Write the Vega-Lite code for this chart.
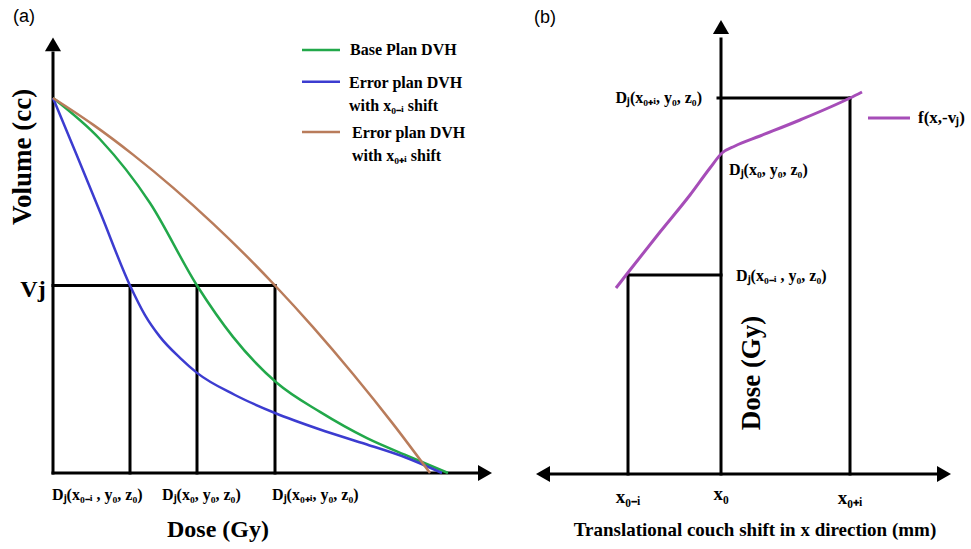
{
  "$schema": "https://vega.github.io/schema/vega-lite/v6.json",
  "padding": 0,
  "spacing": 0,
  "background": "white",
  "config": {
    "view": {"stroke": null},
    "text": {"font": "Liberation Serif", "fontWeight": "bold", "color": "black", "baseline": "middle"}
  },
  "datasets": {
    "segA": [
      {"seg": "yaxis", "x": 0, "y": 0}, {"seg": "yaxis", "x": 0, "y": 112},
      {"seg": "xaxis", "x": 0, "y": 0}, {"seg": "xaxis", "x": 106.5, "y": 0},
      {"seg": "vj", "x": 0, "y": 50}, {"seg": "vj", "x": 55.5, "y": 50},
      {"seg": "v1", "x": 19.25, "y": 0}, {"seg": "v1", "x": 19.25, "y": 50},
      {"seg": "v2", "x": 36, "y": 0}, {"seg": "v2", "x": 36, "y": 50},
      {"seg": "v3", "x": 55.5, "y": 0}, {"seg": "v3", "x": 55.5, "y": 50}
    ],
    "arrowsA": [
      {"shape": "triangle-up", "x": 0, "y": 114.3},
      {"shape": "triangle-right", "x": 108, "y": 0}
    ],
    "curvesA": [
      {"series": "Base Plan DVH", "part": "curve", "x": 0, "y": 100},
      {"series": "Base Plan DVH", "part": "curve", "x": 11.75, "y": 89},
      {"series": "Base Plan DVH", "part": "curve", "x": 24.25, "y": 72},
      {"series": "Base Plan DVH", "part": "curve", "x": 36, "y": 50},
      {"series": "Base Plan DVH", "part": "curve", "x": 45, "y": 36.3},
      {"series": "Base Plan DVH", "part": "curve", "x": 56, "y": 24},
      {"series": "Base Plan DVH", "part": "curve", "x": 66.75, "y": 16.3},
      {"series": "Base Plan DVH", "part": "curve", "x": 78.5, "y": 9.3},
      {"series": "Base Plan DVH", "part": "curve", "x": 89.25, "y": 4.3},
      {"series": "Base Plan DVH", "part": "curve", "x": 98.75, "y": 0},
      {"series": "Error x0-i", "part": "curve", "x": 0, "y": 100},
      {"series": "Error x0-i", "part": "curve", "x": 6, "y": 84.6},
      {"series": "Error x0-i", "part": "curve", "x": 12, "y": 69},
      {"series": "Error x0-i", "part": "curve", "x": 19.25, "y": 50},
      {"series": "Error x0-i", "part": "curve", "x": 23, "y": 42.1},
      {"series": "Error x0-i", "part": "curve", "x": 26.75, "y": 36.3},
      {"series": "Error x0-i", "part": "curve", "x": 31.75, "y": 30.7},
      {"series": "Error x0-i", "part": "curve", "x": 36, "y": 26.7},
      {"series": "Error x0-i", "part": "curve", "x": 45.5, "y": 20.8},
      {"series": "Error x0-i", "part": "curve", "x": 55.5, "y": 16},
      {"series": "Error x0-i", "part": "curve", "x": 66.75, "y": 11.6},
      {"series": "Error x0-i", "part": "curve", "x": 78.5, "y": 7.6},
      {"series": "Error x0-i", "part": "curve", "x": 88, "y": 4.2},
      {"series": "Error x0-i", "part": "curve", "x": 97.25, "y": 0},
      {"series": "Error x0+i", "part": "curve", "x": 0, "y": 100},
      {"series": "Error x0+i", "part": "curve", "x": 10, "y": 92.9},
      {"series": "Error x0+i", "part": "curve", "x": 20, "y": 84.9},
      {"series": "Error x0+i", "part": "curve", "x": 30, "y": 76.1},
      {"series": "Error x0+i", "part": "curve", "x": 40, "y": 66.5},
      {"series": "Error x0+i", "part": "curve", "x": 50, "y": 56.1},
      {"series": "Error x0+i", "part": "curve", "x": 55.5, "y": 50},
      {"series": "Error x0+i", "part": "curve", "x": 65, "y": 38.9},
      {"series": "Error x0+i", "part": "curve", "x": 75, "y": 26.4},
      {"series": "Error x0+i", "part": "curve", "x": 85, "y": 13.1},
      {"series": "Error x0+i", "part": "curve", "x": 94.25, "y": 0},
      {"series": "Base Plan DVH", "part": "key", "x": 62.25, "y": 112.8},
      {"series": "Base Plan DVH", "part": "key", "x": 71.75, "y": 112.8},
      {"series": "Error x0-i", "part": "key", "x": 62.25, "y": 104.3},
      {"series": "Error x0-i", "part": "key", "x": 71.75, "y": 104.3},
      {"series": "Error x0+i", "part": "key", "x": 62.25, "y": 90.9},
      {"series": "Error x0+i", "part": "key", "x": 71.75, "y": 90.9}
    ],
    "legendTextA": [
      {"t": "Base Plan DVH", "x": 74.25, "y": 112.8},
      {"t": "Error plan DVH", "x": 74, "y": 104},
      {"t": "with x₀₋ᵢ shift", "x": 74, "y": 97.9},
      {"t": "Error plan DVH", "x": 74.75, "y": 90.7},
      {"t": "with x₀₊ᵢ shift", "x": 74.75, "y": 84.5}
    ],
    "tickTextA": [
      {"t": "Dⱼ(x₀₋ᵢ , y₀, z₀)", "x": -0.25, "y": -5.9},
      {"t": "Dⱼ(x₀, y₀, z₀)", "x": 27.25, "y": -5.9},
      {"t": "Dⱼ(x₀₊ᵢ, y₀, z₀)", "x": 54.75, "y": -5.9}
    ],
    "bigTextA": [
      {"t": "Dose (Gy)", "x": 41.25, "y": -15.2},
      {"t": "Vj", "x": -5, "y": 48.8}
    ],
    "segB": [
      {"seg": "xaxis", "x": -18, "y": 0}, {"seg": "xaxis", "x": 22, "y": 0},
      {"seg": "yaxis", "x": 0, "y": 0}, {"seg": "yaxis", "x": 0, "y": 87},
      {"seg": "top", "x": -0.3, "y": 75.2}, {"seg": "top", "x": 12.9, "y": 75.2},
      {"seg": "right", "x": 12.9, "y": 0}, {"seg": "right", "x": 12.9, "y": 75.2},
      {"seg": "low", "x": -9.3, "y": 39.8}, {"seg": "low", "x": 0, "y": 39.8},
      {"seg": "left", "x": -9.3, "y": 0}, {"seg": "left", "x": -9.3, "y": 39.8}
    ],
    "arrowsB": [
      {"shape": "triangle-left", "x": -17.8, "y": 0},
      {"shape": "triangle-right", "x": 22.3, "y": 0},
      {"shape": "triangle-up", "x": 0, "y": 89.4}
    ],
    "curveB": [
      {"part": "curve", "x": -10.5, "y": 37.2},
      {"part": "curve", "x": -9.1, "y": 40.8},
      {"part": "curve", "x": -6.1, "y": 48.4},
      {"part": "curve", "x": -3.1, "y": 55.8},
      {"part": "curve", "x": -1.1, "y": 61.2},
      {"part": "curve", "x": 0.1, "y": 64.2},
      {"part": "curve", "x": 1.4, "y": 65.6},
      {"part": "curve", "x": 3.9, "y": 67.6},
      {"part": "curve", "x": 7.9, "y": 70.8},
      {"part": "curve", "x": 12.9, "y": 75.2},
      {"part": "curve", "x": 14.1, "y": 76.4},
      {"part": "key", "x": 14.7, "y": 71.2},
      {"part": "key", "x": 18.9, "y": 71.2}
    ],
    "leftTextB": [
      {"t": "Dⱼ(x₀, y₀, z₀)", "x": 0.8, "y": 60.8},
      {"t": "Dⱼ(x₀₋ᵢ , y₀, z₀)", "x": 1.5, "y": 39.6}
    ],
    "rightTextB": [
      {"t": "Dⱼ(x₀₊ᵢ, y₀, z₀)", "x": -1.9, "y": 75.2}
    ],
    "tickTextB": [
      {"t": "x₀₋ᵢ", "x": -9.3, "y": -4.6},
      {"t": "x₀", "x": 0, "y": -4},
      {"t": "x₀₊ᵢ", "x": 12.9, "y": -4.8}
    ]
  },
  "hconcat": [
    {
      "width": 495,
      "height": 549,
      "encoding": {
        "x": {"field": "x", "type": "quantitative", "scale": {"domain": [-13.25, 110.5], "nice": false, "zero": false}, "axis": null},
        "y": {"field": "y", "type": "quantitative", "scale": {"domain": [-20.27, 126.13], "nice": false, "zero": false}, "axis": null}
      },
      "layer": [
        {
          "data": {"name": "segA"},
          "mark": {"type": "line", "color": "black", "strokeWidth": 3, "strokeCap": "square"},
          "encoding": {"detail": {"field": "seg"}}
        },
        {
          "data": {"name": "arrowsA"},
          "mark": {"type": "point", "filled": true, "color": "black", "size": 260, "opacity": 1},
          "encoding": {"shape": {"field": "shape", "type": "nominal", "scale": null}}
        },
        {
          "data": {"name": "curvesA"},
          "mark": {"type": "line", "strokeWidth": 2.5, "interpolate": "monotone"},
          "encoding": {
            "detail": {"field": "part"},
            "color": {"field": "series", "type": "nominal", "legend": null,
              "scale": {"domain": ["Base Plan DVH", "Error x0-i", "Error x0+i"], "range": ["#22a84a", "#3c3cd0", "#b97c5b"]}}
          }
        },
        {
          "data": {"name": "legendTextA"},
          "mark": {"type": "text", "align": "left", "fontSize": 16},
          "encoding": {"text": {"field": "t"}}
        },
        {
          "data": {"name": "tickTextA"},
          "mark": {"type": "text", "align": "left", "fontSize": 16},
          "encoding": {"text": {"field": "t"}}
        },
        {
          "data": {"name": "bigTextA"},
          "mark": {"type": "text", "align": "center", "fontSize": 24},
          "encoding": {"text": {"field": "t"}}
        },
        {
          "data": {"values": [{"t": "Volume (cc)", "x": -7.5, "y": 84.3}]},
          "mark": {"type": "text", "align": "center", "fontSize": 27, "angle": 270},
          "encoding": {"text": {"field": "t"}}
        },
        {
          "data": {"values": [{"t": "(a)", "x": -7.25, "y": 121.6}]},
          "mark": {"type": "text", "align": "center", "fontSize": 18, "font": "Liberation Sans", "fontWeight": "normal"},
          "encoding": {"text": {"field": "t"}}
        }
      ]
    },
    {
      "width": 476,
      "height": 549,
      "encoding": {
        "x": {"field": "x", "type": "quantitative", "scale": {"domain": [-22.6, 25], "nice": false, "zero": false}, "axis": null},
        "y": {"field": "y", "type": "quantitative", "scale": {"domain": [-15, 94.8], "nice": false, "zero": false}, "axis": null}
      },
      "layer": [
        {
          "data": {"name": "segB"},
          "mark": {"type": "line", "color": "black", "strokeWidth": 3, "strokeCap": "square"},
          "encoding": {"detail": {"field": "seg"}}
        },
        {
          "data": {"name": "arrowsB"},
          "mark": {"type": "point", "filled": true, "color": "black", "size": 260, "opacity": 1},
          "encoding": {"shape": {"field": "shape", "type": "nominal", "scale": null}}
        },
        {
          "data": {"name": "curveB"},
          "mark": {"type": "line", "strokeWidth": 3, "color": "#a64db8", "interpolate": "monotone"},
          "encoding": {"detail": {"field": "part"}}
        },
        {
          "data": {"name": "leftTextB"},
          "mark": {"type": "text", "align": "left", "fontSize": 16},
          "encoding": {"text": {"field": "t"}}
        },
        {
          "data": {"name": "rightTextB"},
          "mark": {"type": "text", "align": "right", "fontSize": 16},
          "encoding": {"text": {"field": "t"}}
        },
        {
          "data": {"name": "tickTextB"},
          "mark": {"type": "text", "align": "center", "fontSize": 19},
          "encoding": {"text": {"field": "t"}}
        },
        {
          "data": {"values": [{"t": "f(x,-vⱼ)", "x": 19.7, "y": 71.2}]},
          "mark": {"type": "text", "align": "left", "fontSize": 17},
          "encoding": {"text": {"field": "t"}}
        },
        {
          "data": {"values": [{"t": "Translational couch shift  in x direction (mm)", "x": 3.4, "y": -11.2}]},
          "mark": {"type": "text", "align": "center", "fontSize": 19},
          "encoding": {"text": {"field": "t"}}
        },
        {
          "data": {"values": [{"t": "Dose (Gy)", "x": 3.1, "y": 20.2}]},
          "mark": {"type": "text", "align": "center", "fontSize": 27, "angle": 270},
          "encoding": {"text": {"field": "t"}}
        },
        {
          "data": {"values": [{"t": "(b)", "x": -17.6, "y": 91.2}]},
          "mark": {"type": "text", "align": "center", "fontSize": 18, "font": "Liberation Sans", "fontWeight": "normal"},
          "encoding": {"text": {"field": "t"}}
        }
      ]
    }
  ]
}
